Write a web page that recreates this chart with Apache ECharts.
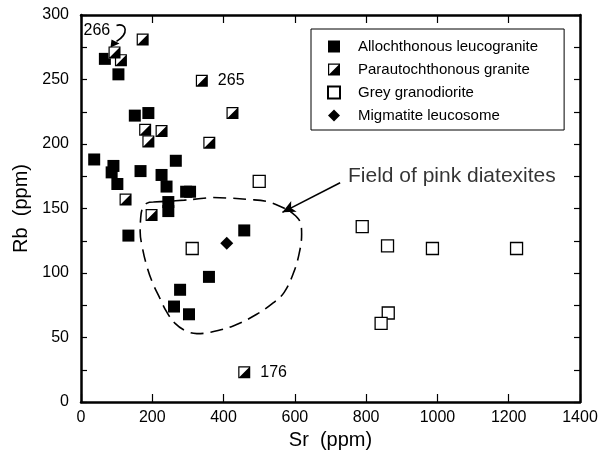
<!DOCTYPE html>
<html><head><meta charset="utf-8">
<script src="https://cdn.jsdelivr.net/npm/echarts@6/dist/echarts.min.js"></script>
<style>html,body{margin:0;padding:0;background:#fff}#c{width:607px;height:459px}</style>
</head><body><div id="c"></div>
<script>
// ---- data (Sr ppm, Rb ppm) ----
const allochthonous = [[37,188],[67,266],[105,254],[91,183],[86,178],[102,169],[151,222],[189,224],[167,179],[266,187],[226,176],[240,167],[295,163],[306,163],[245,155],[245,148],[133,129],[458,133],[359,97],[278,87],[261,74],[303,68]];
const parautochthonous = [[173,281],[94,271],[112,265],[339,249],[425,224],[180,211],[226,210],[189,202],[360,201],[125,157],[198,145],[458,23]];
const parautochthonousLabels = ['','266','','265','','','','','','','','176'];
const greyGranodiorite = [[500,171],[312,119],[789,136],[860,121],[986,119],[1222,119],[862,69],[842,61]];
const migmatite = [[409,123]];
const seriesNames = ['Allochthonous leucogranite','Parautochthonous granite','Grey granodiorite','Migmatite leucosome'];
// outline of the field of pink diatexites (Sr, Rb)
const fieldOutline = [[203,155],[240,155.5],[290,156.5],[330,157.5],[370,158.5],[420,158],[470,157],[520,155.5],[560,151.5],[595,146],[614,140],[619,130],[612,115],[596,100],[570,85],[540,77],[493,68],[427,59],[362,54],[325,53],[295,55],[264,61],[240,70],[222,80],[200,93],[184,106],[172,120],[166,132],[167,141],[172,150],[184,154],[203,155]];
const fieldArrow = [[727,170],[565,147]];
const fieldText = {pos:[749,175], text:'Field of pink diatexites'};
const xTicks = {min:0, max:1400, interval:200};
const yTicks = {min:0, max:300, interval:25, labelStep:50};

const FONT = '"Liberation Sans", Arial, Helvetica, sans-serif';
const chart = echarts.init(document.getElementById('c'), null, {renderer:'canvas'});
const paraPath = 'path://M0,0L10,0L10,10L0,10Z M1,1L1,9L9,9L9,1Z M10,0L10,10L0,10Z';

const paraData = parautochthonous.map((p,i)=>{
  const o = {value:p, name:parautochthonousLabels[i]};
  if (parautochthonousLabels[i] === '266') {
    o.label = {position:[-25,-24]};
  }
  return o;
});

function axisCommon(isX, pos, showLabel){
  const t = isX ? xTicks : yTicks;
  return {
    type:'value', min:t.min, max:t.max, interval:t.interval, position:pos,
    axisLine:{show:true, onZero:false, lineStyle:{color:'#000', width:2.5}},
    axisTick:{show:true, inside:true, length:isX?8:6, lineStyle:{color:'#000', width:1.2}},
    axisLabel:{show:showLabel, color:'#000', fontSize:16, fontFamily:FONT, margin:isX?8:12,
      formatter: v => (isX || v % yTicks.labelStep === 0) ? String(v) : ''},
    splitLine:{show:false}
  };
}

const option = {
  animation:false,
  backgroundColor:'#fff',
  grid:{left:81, right:27, top:15, bottom:57},
  legend:{
    data:seriesNames, orient:'vertical', left:311, top:29,
    padding:[10,26,7,16], itemWidth:12, itemHeight:12, itemGap:8,
    borderColor:'#000', borderWidth:1, backgroundColor:'#fff',
    textStyle:{color:'#000', fontSize:15, fontFamily:FONT, padding:[0,0,0,13]},
    selectedMode:false
  },
  xAxis:[
    Object.assign(axisCommon(true,'bottom',true), {name:'Sr  (ppm)', nameLocation:'middle', nameGap:27,
      nameTextStyle:{color:'#000', fontSize:20, fontFamily:FONT}}),
    axisCommon(true,'top',false)
  ],
  yAxis:[
    Object.assign(axisCommon(false,'left',true), {name:'Rb  (ppm)', nameLocation:'middle', nameGap:49,
      nameTextStyle:{color:'#000', fontSize:20, fontFamily:FONT}}),
    axisCommon(false,'right',false)
  ],
  series:[
    {name:'field', type:'line', data:fieldOutline, smooth:0.4, symbol:'none', silent:true,
      lineStyle:{color:'#000', width:1.6, type:[13,7]}, z:1,
      markLine:{silent:true, symbol:['none','arrow'], symbolSize:[9,13],
        lineStyle:{color:'#000', width:1.6, type:'solid'}, label:{show:false},
        data:[[{coord:fieldArrow[0]},{coord:fieldArrow[1]}]]}},
    {name:'note', type:'scatter', data:[{value:fieldText.pos, name:fieldText.text}], symbolSize:0, silent:true,
      label:{show:true, position:'right', distance:0, formatter:p=>p.name, color:'#000', fontSize:21, fontFamily:FONT}},
    {name:seriesNames[0], type:'scatter', data:allochthonous, symbol:'rect', symbolSize:12,
      itemStyle:{color:'#000', opacity:1}, z:3},
    {name:seriesNames[2], type:'scatter', data:greyGranodiorite, symbol:'rect', symbolSize:12,
      itemStyle:{color:'#fff', borderColor:'#000', borderWidth:1.3, opacity:1}, z:3},
    {name:'paraUnder', type:'scatter', data:parautochthonous, symbol:'rect', symbolSize:12,
      itemStyle:{color:'#fff', opacity:1}, z:3, silent:true},
    {name:seriesNames[1], type:'scatter', data:paraData, symbol:paraPath, symbolSize:12,
      itemStyle:{color:'#000', opacity:1}, z:3,
      label:{show:true, position:'right', distance:10, formatter:p=>p.name, color:'#000', fontSize:16, fontFamily:FONT}},
    {name:seriesNames[3], type:'scatter', data:migmatite, symbol:'diamond', symbolSize:13,
      itemStyle:{color:'#000', opacity:1}, z:3}
  ]
};
chart.setOption(option);

// curved pointer for sample 266
const idx266 = parautochthonousLabels.indexOf('266');
const p = chart.convertToPixel({xAxisIndex:0, yAxisIndex:0}, parautochthonous[idx266]);
chart.setOption({graphic:[
  {type:'bezierCurve', x:p[0], y:p[1], z:10,
    shape:{x1:2, y1:-27, cpx1:12, cpy1:-30, cpx2:15, cpy2:-19, x2:2, y2:-11},
    style:{fill:null, stroke:'#000', lineWidth:1.6}},
  {type:'polygon', x:p[0], y:p[1], z:10, shape:{points:[[-4,-5],[-3,-13],[5,-9]]},
    style:{fill:'#000'}}
]});
</script>
</body></html>
